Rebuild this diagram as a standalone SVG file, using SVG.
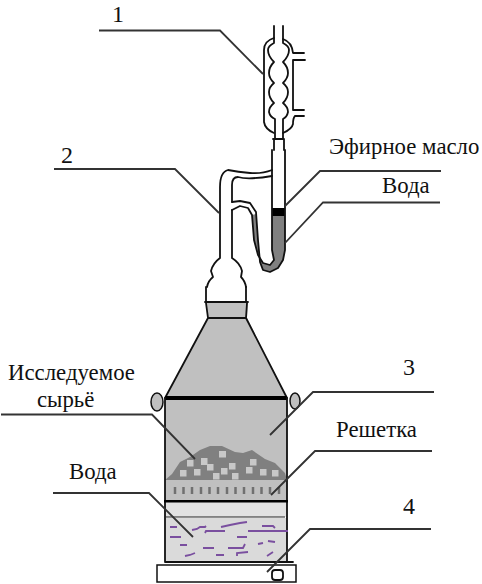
<svg xmlns="http://www.w3.org/2000/svg" width="482" height="584" viewBox="0 0 482 584">
<style>
.a{fill:none;stroke:#111;stroke-width:1.800;stroke-linejoin:round;stroke-linecap:round}
.l{fill:none;stroke:#333;stroke-width:1.800}
.t{font-family:"Liberation Serif","Times New Roman",serif;font-size:22.800px;fill:#111}
.n{font-family:"Liberation Serif","Times New Roman",serif;font-size:24px;fill:#111}
.w{fill:none;stroke:#7a4f9f;stroke-width:1.800}
.s{fill:#c8c8c8}
</style>
<rect width="482" height="584" fill="#fff"/>
<g id="condenser">
<path class="a" d="M274 26V43Q268 46 268 50Q268 56 274 62Q269 67 269 73Q269 78 274 83Q269 87 269 92Q269 98 274 103Q269 107 269 112Q270 117 275 119V138"/>
<path class="a" d="M283 26V43Q289 46 289 50Q289 56 283 62Q288 67 288 73Q288 78 283 83Q288 87 288 92Q288 98 283 103Q288 107 288 112Q287 117 283 119V138"/>
<path class="a" d="M274 38Q264 41 264 50V122Q265 129 274 133"/>
<path class="a" d="M283 39Q292 42 293 53H304M305 60H293V110H304M304 116H295Q293 118 293 124Q292 129 283 133"/>
<path class="a" d="M273 139H284M274 139V150M284 139V150"/>
</g>
<g id="receiver">
<path fill="#808080" d="M272 216H285V250L283 260 278 268 270 272 263 270 260 262 258 240 256 214 252 215 254 240 258 255 263 263 270 265 274 260 272 250Z"/>
<rect x="272" y="208" width="13" height="8" fill="#000"/>
<path class="a" d="M272 150V170L272 250 274 260 270 265 263 263 258 255 254 240 252 215 248 208 240 206 232 210"/>
<path class="a" d="M285 150V250L283 260 278 268 270 272 263 270 260 262 258 240 256 212 250 203 240 201 232 202"/>
<path class="a" d="M272 170Q262 174 250 173T228 170Q220 172 220 187V258Q213 263 211 271L213 277Q208 281 207 287M232 258V210M232 202V185Q232 177 238 177Q248 180 272 176M232 258Q240 263 242 271L241 277Q245 281 246 287"/>
</g>
<g id="still">
<path fill="#c0c0c0" d="M206 302H248L247 318 287 398V501H165V398L208 318Z"/>
<path class="a" d="M206 287V302M246 287V302M205 302H248M206 303L208 318M247 303L246 318M208 318H246M208 318L165 398M246 318L287 398"/>
<rect x="165" y="396" width="122" height="4" fill="#000"/>
<ellipse cx="157" cy="402" rx="6" ry="9" fill="#c0c0c0" stroke="#111" stroke-width="1.500"/>
<ellipse cx="295" cy="401" rx="5" ry="8" fill="#c0c0c0" stroke="#111" stroke-width="1.500"/>
<path fill="#808080" d="M165 480L172 474 180 462 190 457 200 450 210 446 222 446 235 452 243 453 252 450 265 459 275 463 285 473 287 480Z"/>
<g class="s">
<rect x="187" y="460" width="6.500" height="6.500"/><rect x="201" y="458" width="6.500" height="7"/><rect x="219" y="451" width="7" height="6.500"/><rect x="250" y="459" width="6.500" height="6.500"/><rect x="229" y="463" width="6.500" height="6.500"/><rect x="207" y="464" width="6.500" height="6.500"/><rect x="194" y="469" width="6.500" height="6.500"/><rect x="180" y="470" width="6.500" height="6.500"/><rect x="221" y="468" width="6.500" height="6.500"/><rect x="213" y="473" width="6.500" height="6.500"/><rect x="232" y="473" width="6.500" height="6.500"/><rect x="246" y="467" width="6.500" height="6.500"/><rect x="260" y="469" width="6.500" height="6.500"/><rect x="272" y="470" width="6.500" height="6.500"/>
</g>
<path stroke="#707070" stroke-width="2.500" fill="none" d="M175 487v7M183.500 487v7M192 487v7M201 487v7M209.500 487v7M218 487v7M227 487v7M235.500 487v7M244 487v7M253 487v7M261.500 487v7M270 487v7M279 487v7"/>
<rect x="165" y="502" width="122" height="15" fill="#e2e2e2"/>
<rect x="165" y="518" width="122" height="44" fill="#dadada"/>
<path class="a" d="M165 398V562M287 398V562M165 562H293"/>
<rect x="164" y="500" width="124" height="2.500" fill="#000"/>
<path d="M165 517H285" stroke="#222" stroke-width="1.200" fill="none"/>
<g>
<path class="w" d="M170 527H177M192 530L197 529 200 527 205 527 206 526M205 533L206 531H225M221 527L230 525 240 523 247 522M262 526H273L275 528M248 531H288M170 537H181M237 537H247M180 545H187M203 548H214M228 548H243L245 544M258 544L263 543M268 541L275 542M185 556L190 555 195 553M216 555H224M237 556V553L248 552M267 556L273 552"/>
</g>
<rect x="157" y="565" width="139" height="17" fill="#fff" stroke="#111" stroke-width="1.500"/>
<rect x="272" y="570" width="11" height="10" rx="3" fill="#fff" stroke="#111" stroke-width="1.800"/>
</g>
<g id="connectors">
<path class="l" d="M99 30.500H220L263 74"/>
<path class="l" d="M54 169H175L219 213"/>
<path class="l" d="M441 171H320L285 206"/>
<path class="l" d="M440 202.500H323L285 243"/>
<path class="l" d="M434 392H313L270 435"/>
<path class="l" d="M432 451H315L271 495"/>
<path class="l" d="M431 529H310L267 572"/>
<path class="l" d="M1 414.500H152L195 459"/>
<path class="l" d="M53 493H149L193 537"/>
</g>
<g id="labels">
<text class="n" x="112" y="21.500">1</text>
<text class="n" x="61" y="163">2</text>
<text class="n" x="403" y="375">3</text>
<text class="n" x="403" y="514">4</text>
<text class="t" x="329" y="154">Эфирное масло</text>
<text class="t" x="382" y="193">Вода</text>
<text class="t" x="336" y="437">Решетка</text>
<text class="t" x="8" y="380">Исследуемое</text>
<text class="t" x="37" y="407">сырьё</text>
<text class="t" x="69" y="479">Вода</text>
</g>
</svg>
